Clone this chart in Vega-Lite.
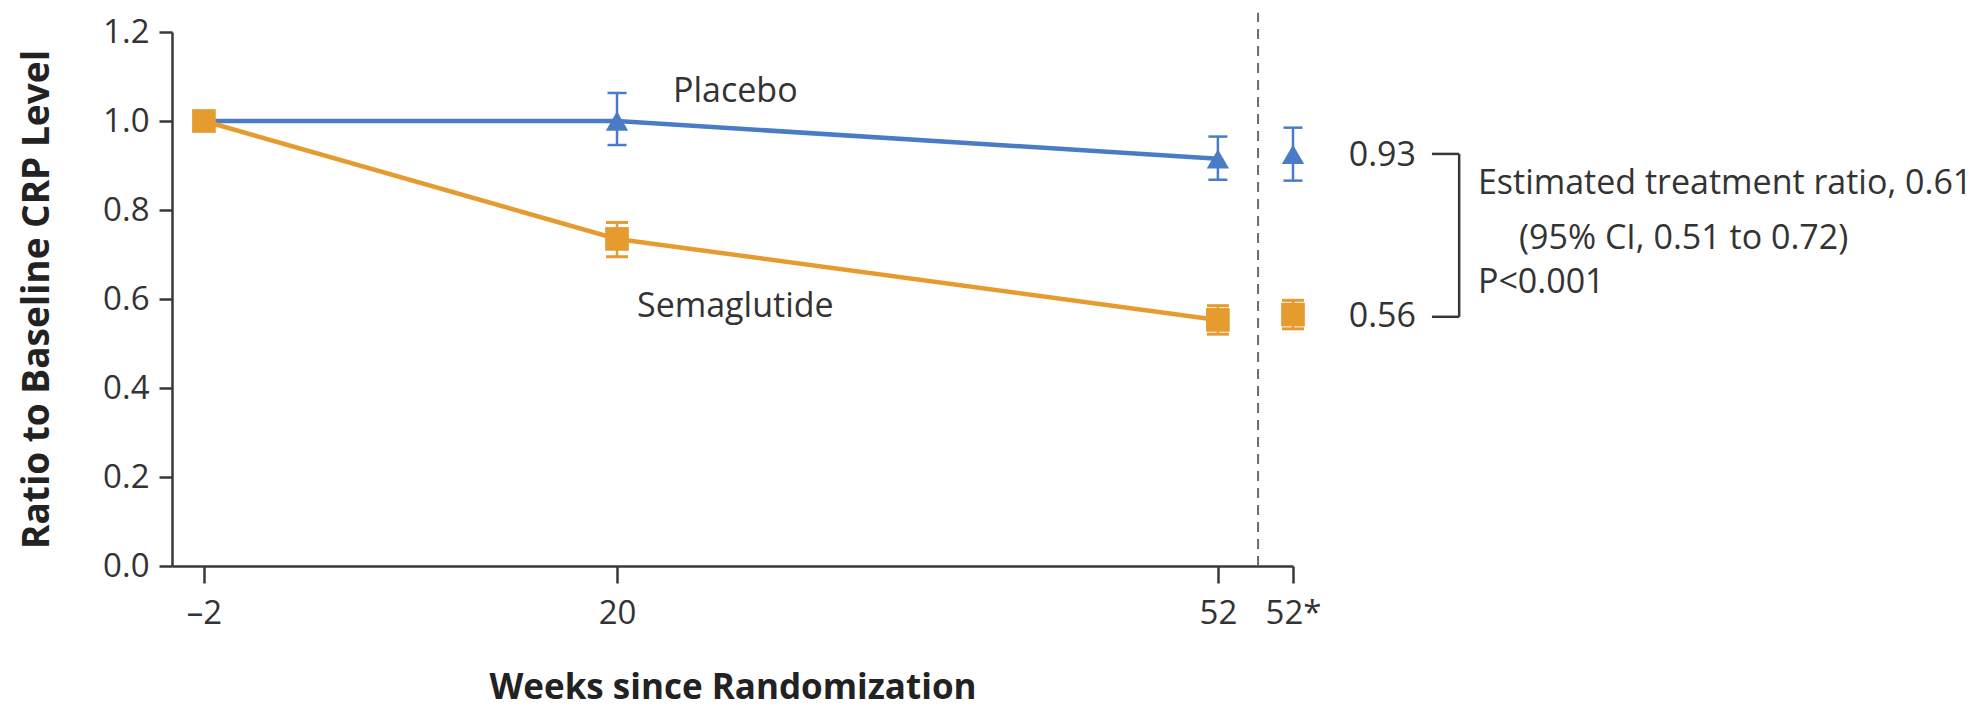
{
  "$schema": "https://vega.github.io/schema/vega-lite/v6.json",
  "autosize": {"type": "none"},
  "padding": {"left": 172, "top": 32, "right": 693, "bottom": 143},
  "width": 1121,
  "height": 534,
  "background": "white",
  "config": {
    "view": {"stroke": null},
    "font": "Open Sans",
    "axis": {
      "grid": false,
      "domainColor": "#383838",
      "domainWidth": 2.5,
      "tickColor": "#383838",
      "tickWidth": 2.5,
      "labelColor": "#333333",
      "labelFontSize": 33,
      "labelFont": "Open Sans",
      "titleColor": "#222222",
      "titleFont": "Open Sans",
      "titleFontWeight": "bold",
      "labelFlush": false,
      "labelOverlap": false
    }
  },
  "datasets": {
    "points": [
      {"series": "Placebo", "week": -2, "ratio": 1.0, "lo": null, "hi": null},
      {"series": "Placebo", "week": 20, "ratio": 1.0, "lo": 0.946, "hi": 1.063},
      {"series": "Placebo", "week": 52, "ratio": 0.915, "lo": 0.868, "hi": 0.965},
      {"series": "Placebo", "week": 56, "ratio": 0.925, "lo": 0.866, "hi": 0.985},
      {"series": "Semaglutide", "week": -2, "ratio": 1.0, "lo": null, "hi": null},
      {"series": "Semaglutide", "week": 20, "ratio": 0.735, "lo": 0.695, "hi": 0.772},
      {"series": "Semaglutide", "week": 52, "ratio": 0.553, "lo": 0.521, "hi": 0.585},
      {"series": "Semaglutide", "week": 56, "ratio": 0.565, "lo": 0.533, "hi": 0.597}
    ],
    "labels": [
      {"kind": "series", "label": "Placebo", "week": 26.3, "ratio": 1.066},
      {"kind": "series", "label": "Semaglutide", "week": 26.3, "ratio": 0.583},
      {"kind": "value", "label": "0.93", "week": 62.55, "ratio": 0.922},
      {"kind": "value", "label": "0.56", "week": 62.55, "ratio": 0.56},
      {"kind": "note", "label": "Estimated treatment ratio, 0.61", "week": 65.85, "ratio": 0.858},
      {"kind": "note", "label": "(95% CI, 0.51 to 0.72)", "week": 68.04, "ratio": 0.735},
      {"kind": "note", "label": "P<0.001", "week": 65.85, "ratio": 0.635}
    ],
    "bracket": [
      {"week": 63.4, "week2": 64.85, "ratio": 0.926, "ratio2": 0.926},
      {"week": 63.4, "week2": 64.85, "ratio": 0.56, "ratio2": 0.56},
      {"week": 64.85, "week2": 64.85, "ratio": 0.56, "ratio2": 0.926}
    ],
    "divider": [
      {"week": 54.14, "ratio": 0, "ratio2": 1.243}
    ]
  },
  "layer": [
    {
      "data": {"name": "points"},
      "transform": [{"filter": "datum.week < 55"}],
      "mark": {"type": "line", "strokeWidth": 4.5},
      "encoding": {
        "x": {
          "field": "week",
          "type": "quantitative",
          "scale": {"domain": [-3.7, 56], "nice": false, "zero": false},
          "title": "Weeks since Randomization",
          "axis": {
            "values": [-2, 20, 52, 56],
            "format": "d",
            "labelExpr": "datum.value == -2 ? '–2' : (datum.value == 56 ? '52*' : datum.label)",
            "tickSize": 17,
            "labelPadding": 14,
            "title": "Weeks since Randomization",
            "titleFontSize": 35,
            "titlePadding": 40
          }
        },
        "y": {
          "field": "ratio",
          "type": "quantitative",
          "scale": {"domain": [0, 1.2], "nice": false, "zero": true},
          "title": "Ratio to Baseline CRP Level",
          "axis": {
            "values": [0, 0.2, 0.4, 0.6, 0.8, 1.0, 1.2],
            "format": ".1f",
            "tickSize": 13,
            "labelPadding": 10,
            "title": "Ratio to Baseline CRP Level",
            "titleFontSize": 37,
            "titlePadding": 46
          }
        },
        "color": {
          "field": "series",
          "type": "nominal",
          "scale": {"domain": ["Placebo", "Semaglutide"], "range": ["#4a7cc6", "#e69b2e"]},
          "legend": null
        }
      }
    },
    {
      "data": {"name": "divider"},
      "mark": {"type": "rule", "strokeDash": [10, 7], "strokeWidth": 2, "color": "#6a6a6a"},
      "encoding": {
        "x": {"field": "week", "type": "quantitative"},
        "y": {"field": "ratio", "type": "quantitative"},
        "y2": {"field": "ratio2"}
      }
    },
    {
      "data": {"name": "points"},
      "transform": [{"filter": "datum.lo != null"}],
      "mark": {"type": "rule", "strokeWidth": 2.5},
      "encoding": {
        "x": {"field": "week", "type": "quantitative"},
        "y": {"field": "lo", "type": "quantitative"},
        "y2": {"field": "hi"},
        "color": {"field": "series", "type": "nominal", "legend": null}
      }
    },
    {
      "data": {"name": "points"},
      "transform": [
        {"filter": "datum.lo != null && datum.series == 'Placebo'"},
        {"fold": ["lo", "hi"], "as": ["end", "bound"]}
      ],
      "mark": {"type": "tick", "orient": "horizontal", "size": 19, "thickness": 2.5, "opacity": 1},
      "encoding": {
        "x": {"field": "week", "type": "quantitative"},
        "y": {"field": "bound", "type": "quantitative"},
        "color": {"field": "series", "type": "nominal", "legend": null}
      }
    },
    {
      "data": {"name": "points"},
      "transform": [
        {"filter": "datum.lo != null && datum.series == 'Semaglutide'"},
        {"fold": ["lo", "hi"], "as": ["end", "bound"]}
      ],
      "mark": {"type": "tick", "orient": "horizontal", "size": 22, "thickness": 3, "opacity": 1},
      "encoding": {
        "x": {"field": "week", "type": "quantitative"},
        "y": {"field": "bound", "type": "quantitative"},
        "color": {"field": "series", "type": "nominal", "legend": null}
      }
    },
    {
      "data": {"name": "points"},
      "transform": [{"filter": "datum.series == 'Placebo'"}],
      "mark": {"type": "point", "shape": "triangle-up", "filled": true, "opacity": 1, "size": 500},
      "encoding": {
        "x": {"field": "week", "type": "quantitative"},
        "y": {"field": "ratio", "type": "quantitative"},
        "color": {"field": "series", "type": "nominal", "legend": null}
      }
    },
    {
      "data": {"name": "points"},
      "transform": [{"filter": "datum.series == 'Semaglutide'"}],
      "mark": {"type": "point", "shape": "square", "filled": true, "opacity": 1, "size": 560},
      "encoding": {
        "x": {"field": "week", "type": "quantitative"},
        "y": {"field": "ratio", "type": "quantitative"},
        "color": {"field": "series", "type": "nominal", "legend": null}
      }
    },
    {
      "data": {"name": "labels"},
      "transform": [{"filter": "datum.kind == 'series'"}],
      "mark": {"type": "text", "align": "center", "baseline": "middle", "fontSize": 34, "color": "#333333"},
      "encoding": {
        "x": {"field": "week", "type": "quantitative"},
        "y": {"field": "ratio", "type": "quantitative"},
        "text": {"field": "label"}
      }
    },
    {
      "data": {"name": "labels"},
      "transform": [{"filter": "datum.kind == 'value'"}],
      "mark": {"type": "text", "align": "right", "baseline": "middle", "fontSize": 34, "color": "#333333"},
      "encoding": {
        "x": {"field": "week", "type": "quantitative"},
        "y": {"field": "ratio", "type": "quantitative"},
        "text": {"field": "label"}
      }
    },
    {
      "data": {"name": "labels"},
      "transform": [{"filter": "datum.kind == 'note'"}],
      "mark": {"type": "text", "align": "left", "baseline": "middle", "fontSize": 34, "color": "#333333"},
      "encoding": {
        "x": {"field": "week", "type": "quantitative"},
        "y": {"field": "ratio", "type": "quantitative"},
        "text": {"field": "label"}
      }
    },
    {
      "data": {"name": "bracket"},
      "mark": {"type": "rule", "strokeWidth": 2.5, "color": "#383838"},
      "encoding": {
        "x": {"field": "week", "type": "quantitative"},
        "x2": {"field": "week2"},
        "y": {"field": "ratio", "type": "quantitative"},
        "y2": {"field": "ratio2"}
      }
    }
  ]
}
